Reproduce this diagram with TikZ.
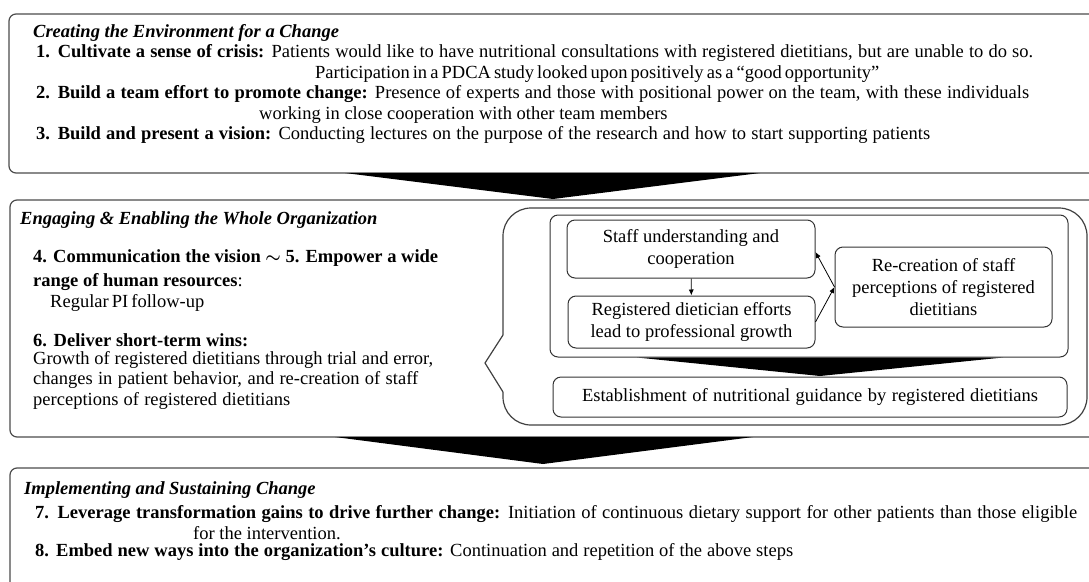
\documentclass[tikz,border=0pt]{standalone}
\usepackage{fontspec}
\setmainfont{Liberation Serif}
\usetikzlibrary{positioning}
\usetikzlibrary{arrows.meta}
\tikzset{>={Latex[width=5pt,length=6pt]}}
\tikzset{
  phase/.style={draw=black!70, line width=1.2pt, rounded corners=7pt},
  ln/.style={anchor=west, inner sep=0pt, font=\fontsize{18.5}{20}\selectfont},
  hd/.style={ln, font=\fontsize{18.5}{20}\selectfont\bfseries\itshape},
  ibox/.style={draw=black!80, line width=1pt, rounded corners=8pt, align=center,
    inner sep=0pt, font=\fontsize{18.5}{22}\selectfont},
  wedge/.style={fill=black}
}
% a line set out to a given width
\newcommand{\spreadline}[2]{\makebox[#1][s]{#2}}

\begin{document}
\begin{tikzpicture}[x=1pt,y=-1pt]
  \useasboundingbox (0,0) rectangle (1089,581);
  \clip (0,0) rectangle (1089,581);

  % phase frames
  \draw[phase] (9,14) rectangle (1110,173);
  \draw[phase] (10,200) rectangle (1110,437);
  \draw[phase] (10,468) rectangle (1110,620);

  % block arrows between phases
  \fill[wedge] (345,173) -- (553,199) -- (760,173) -- cycle;
  \fill[wedge] (335,437) -- (543,464) -- (753,437) -- cycle;

  % creating the environment
  \node[hd] (t1) at (33,33) {Creating the Environment for a Change};
  \node[ln] (c1a) at (36,53) {\spreadline{997pt}{\textbf{1. Cultivate a sense of crisis:} Patients would like to have nutritional consultations with registered dietitians, but are unable to do so.}};
  \node[ln] (c1b) at (315,74) {\spreadline{549pt}{Participation in a PDCA study looked upon positively as a “good opportunity”}};
  \node[ln] (c2a) at (36,94) {\spreadline{993pt}{\textbf{2. Build a team effort to promote change:} Presence of experts and those with positional power on the team, with these individuals}};
  \node[ln] (c2b) at (259,115) {working in close cooperation with other team members};
  \node[ln] (c3) at (36,135) {\spreadline{894pt}{\textbf{3. Build and present a vision:} Conducting lectures on the purpose of the research and how to start supporting patients}};

  % engaging and enabling
  \node[hd] (t2) at (20,220) {Engaging \& Enabling the Whole Organization};
  \node[ln] (e4a) at (33,258) {\textbf{4. Communication the vision \boldmath$\sim$ 5. Empower a wide}};
  \node[ln] (e4b) at (33,282) {\textbf{range of human resources}:};
  \node[ln] (e4c) at (50,303) {\spreadline{150pt}{Regular PI follow-up}};
  \node[ln] (e6a) at (33,340) {\spreadline{215pt}{\textbf{6. Deliver short-term wins:}}};
  \node[ln] (e6b) at (33,360) {\spreadline{400pt}{Growth of registered dietitians through trial and error,}};
  \node[ln] (e6c) at (33,380) {\spreadline{385pt}{changes in patient behavior, and re-creation of staff}};
  \node[ln] (e6d) at (33,401) {\spreadline{257pt}{perceptions of registered dietitians}};

  % callout
  \draw[draw=black!75, line width=1.2pt, rounded corners=28pt]
    (503,335) -- (503,208) -- (1087,208) -- (1087,425) -- (503,425) -- (503,392);
  \draw[draw=black!75, line width=1.2pt, line join=miter]
    (503,392) -- (485,363) -- (503,335);
  \node[ibox, minimum width=518pt, minimum height=142pt] (inner) at (809,286) {};
  \node[ibox, minimum width=248pt, minimum height=58pt] (staff) at (691,249)
    {Staff understanding and\\cooperation};
  \node[ibox, minimum width=247pt, minimum height=52pt] (reg) at (691.5,322)
    {Registered dietician efforts\\lead to professional growth};
  \node[ibox, minimum width=217pt, minimum height=80pt] (recr) at (943.5,287)
    {Re-creation of staff\\perceptions of registered\\dietitians};
  \node[ibox, minimum width=514pt, minimum height=40pt] (est) at (810,397)
    {\spreadline{456pt}{Establishment of nutritional guidance by registered dietitians}};
  \fill[wedge] (inner.south -| 637,0) -- (820,376) -- (inner.south -| 1003,0) -- cycle;

  \draw[->, line width=0.8pt] (staff) -- (reg);
  \draw[->, line width=0.8pt] (reg.east) -- (recr.west);
  \draw[->, line width=0.8pt] (recr.west) -- ([yshift=-3pt]staff.east);

  % implementing and sustaining
  \node[hd] (t3) at (24,490) {Implementing and Sustaining Change};
  \node[ln] (i7a) at (35,514) {\spreadline{1042pt}{\textbf{7. Leverage transformation gains to drive further change:} Initiation of continuous dietary support for other patients than those eligible}};
  \node[ln] (i7b) at (193,533) {for the intervention.};
  \node[ln] (i8) at (35,552) {\spreadline{758pt}{\textbf{8. Embed new ways into the organization’s culture:} Continuation and repetition of the above steps}};
\end{tikzpicture}
\end{document}
